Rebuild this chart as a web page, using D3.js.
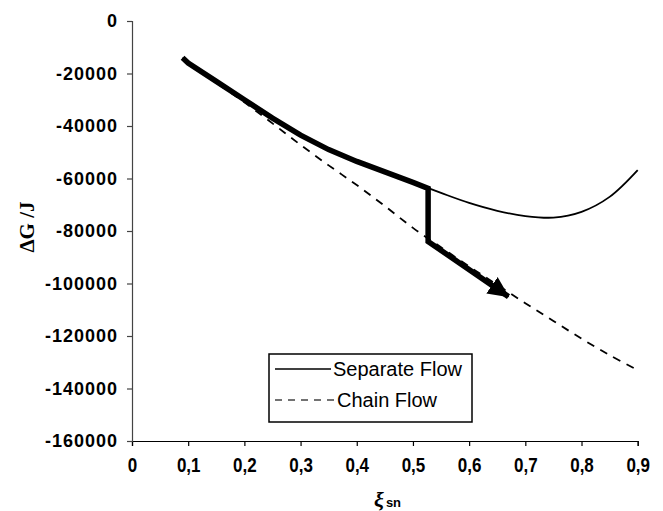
<!DOCTYPE html>
<html>
<head>
<meta charset="utf-8">
<script src="https://cdn.jsdelivr.net/npm/d3@7"></script>
<style>
    body { margin: 0; background: #fff; }
    svg { display: block; }
    .tick text { font-family: 'Liberation Sans', Arial, sans-serif; font-weight: bold; fill: #000; }
    .legend text { font-family: 'Liberation Sans', Arial, sans-serif; font-size: 20px; fill: #000; }
</style>
</head>
<body>
<svg width="663" height="511"></svg>
<script>
// Values
var xValues = [0.09, 0.1, 0.15, 0.2, 0.25, 0.3, 0.35, 0.4, 0.45, 0.5, 0.55, 0.6, 0.65, 0.7, 0.75, 0.8, 0.85, 0.9];
var separateFlow = [-14000, -16000, -23000, -30000, -37000, -43500, -49000, -53500, -57500, -61500,
    -65500, -69300, -72300, -74300, -74900, -72700, -67000, -56800];
var chainFlow = [-14000, -16000, -23500, -31000, -39000, -47200, -55000, -62500, -70500, -78800,
    -86200, -93500, -100500, -107500, -114300, -121000, -127300, -133000];

// Thick arrow: follows the separate flow, drops at 0.53, then runs along chain flow
var arrowX = [0.09, 0.1, 0.15, 0.2, 0.25, 0.3, 0.35, 0.4, 0.45, 0.5, 0.527, 0.527, 0.67];
var arrowY = [-14000, -16000, -23000, -30000, -37000, -43500, -49000, -53500, -57500, -61500, -63800, -84000, -105000];

var xTicks = [0, 0.1, 0.2, 0.3, 0.4, 0.5, 0.6, 0.7, 0.8, 0.9];
var yTicks = [0, -20000, -40000, -60000, -80000, -100000, -120000, -140000, -160000];

var legendLabels = ['Separate Flow', 'Chain Flow'];

var svg = d3.select('svg');

var xScale = d3.scaleLinear().domain([0, 0.9]).range([132, 637.7]);
var yScale = d3.scaleLinear().domain([0, -160000]).range([21, 441]);

// Axes
var xAxis = svg.append('g')
    .attr('class', 'x axis')
    .attr('transform', 'translate(0,441)')
    .call(d3.axisBottom(xScale).tickValues(xTicks).tickSize(5).tickPadding(12)
        .tickFormat(function(d) { return d === 0 ? '0' : d3.format('.1f')(d).replace('.', ','); }));
// labels in the picture are tall and narrow
xAxis.selectAll('text')
    .style('font-size', '20px')
    .attr('transform', 'scale(0.85,1)');

var yAxis = svg.append('g')
    .attr('class', 'y axis')
    .attr('transform', 'translate(132,0)')
    .call(d3.axisLeft(yScale).tickValues(yTicks).tickSize(5).tickPadding(9)
        .tickFormat(function(d) { return String(d); }));
yAxis.selectAll('text').style('font-size', '18px').style('letter-spacing', '1px');

xAxis.selectAll('path, line').attr('stroke', '#000').attr('stroke-width', 1.2);
yAxis.selectAll('path, line').attr('stroke', '#444').attr('stroke-width', 1.2);

// Curves
var line = d3.line()
    .x(function(d) { return xScale(d[0]); })
    .y(function(d) { return yScale(d[1]); })
    .curve(d3.curveCatmullRom);

svg.append('path')
    .datum(d3.zip(xValues, chainFlow))
    .attr('d', line)
    .attr('fill', 'none')
    .attr('stroke', '#000')
    .attr('stroke-width', 1.8)
    .attr('stroke-dasharray', '8,7');

svg.append('path')
    .datum(d3.zip(xValues, separateFlow))
    .attr('d', line)
    .attr('fill', 'none')
    .attr('stroke', '#000')
    .attr('stroke-width', 1.8);

// Arrow head marker
svg.append('defs').append('marker')
    .attr('id', 'head')
    .attr('markerUnits', 'userSpaceOnUse')
    .attr('markerWidth', 24)
    .attr('markerHeight', 24)
    .attr('viewBox', '0 -12 24 24')
    .attr('refX', 20)
    .attr('refY', 0)
    .attr('orient', 'auto')
    .append('path')
    .attr('d', 'M0,-10L21,0L0,10Z')
    .attr('fill', '#000');

var arrowLine = d3.line()
    .x(function(d) { return xScale(d[0]); })
    .y(function(d) { return yScale(d[1]); });

svg.append('path')
    .datum(d3.zip(arrowX, arrowY))
    .attr('d', arrowLine)
    .attr('fill', 'none')
    .attr('stroke', '#000')
    .attr('stroke-width', 5.5)
    .attr('stroke-linejoin', 'miter')
    .attr('marker-end', 'url(#head)');

// Legend
var legend = svg.append('g').attr('class', 'legend');
legend.append('rect')
    .attr('x', 269).attr('y', 354)
    .attr('width', 203).attr('height', 68)
    .attr('fill', '#fff')
    .attr('stroke', '#000')
    .attr('stroke-width', 1.5);

var legendRows = legend.selectAll('.row')
    .data(legendLabels)
    .enter()
    .append('g')
    .attr('class', 'row')
    .attr('transform', function(d, i) { return 'translate(275,' + (369 + i * 31) + ')'; });

legendRows.append('line')
    .attr('x1', 0).attr('x2', function(d, i) { return i === 0 ? 56 : 60; })
    .attr('stroke', function(d, i) { return i === 0 ? '#000' : '#444'; })
    .attr('stroke-width', 1.5)
    .attr('stroke-dasharray', function(d, i) { return i === 0 ? null : '7,6'; });

legendRows.append('text')
    .attr('x', function(d, i) { return i === 0 ? 58 : 62; })
    .attr('dy', '0.36em')
    .text(function(d) { return d; });

// Axis titles
svg.append('text')
    .attr('transform', 'translate(34,227) rotate(-90)')
    .attr('text-anchor', 'middle')
    .style('font-family', "'Liberation Serif', 'Times New Roman', serif")
    .style('font-weight', 'bold')
    .style('font-size', '21px')
    .text('\u0394G /J');

var xTitle = svg.append('text')
    .attr('x', 374)
    .attr('y', 507)
    .style('font-weight', 'bold');
xTitle.append('tspan')
    .style('font-family', "'Liberation Serif', 'Times New Roman', serif")
    .style('font-style', 'italic')
    .style('font-size', '22px')
    .text('\u03be');
xTitle.append('tspan')
    .attr('dx', 2)
    .style('font-family', "'Liberation Sans', Arial, sans-serif")
    .style('font-size', '13px')
    .text('sn');
</script>
</body>
</html>
